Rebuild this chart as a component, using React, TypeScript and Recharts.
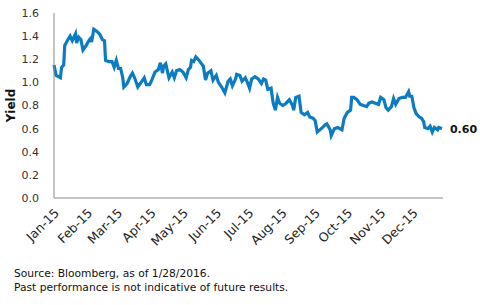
import React from "react";
import { LineChart, Line, XAxis, YAxis } from "recharts";

// days since Jan 1, 2015
const days = [
  0, 2, 6, 7, 9, 10, 13, 15, 17, 20, 21, 23, 25, 27, 30, 33, 34, 35, 37, 40,
  43, 45, 47, 48, 51, 54, 56, 58, 60, 62, 64, 65, 68, 71, 73, 75, 78, 81, 84, 86,
  89, 91, 94, 97, 99, 101, 102, 104, 107, 110, 112, 114, 117, 120, 123, 125, 127, 128, 130, 132,
  135, 139, 141, 143, 146, 148, 151, 153, 156, 159, 162, 164, 166, 169, 170, 173, 175, 178, 180, 182,
  184, 187, 190, 193, 195, 197, 199, 202, 204, 206, 208, 210, 213, 216, 219, 222, 223, 225, 228, 230,
  233, 236, 238, 241, 243, 245, 250, 252, 254, 257, 258, 261, 264, 268, 270, 273, 276, 277, 279, 282,
  285, 288, 291, 293, 296, 299, 302, 304, 307, 309, 311, 314, 316, 318, 321, 324, 327, 330, 331, 333,
  335, 337, 340, 342, 344, 345, 348, 350, 352, 354, 357, 358, 361,
];

const yields = [
  1.15, 1.06, 1.04, 1.13, 1.15, 1.32, 1.37, 1.4, 1.36, 1.42, 1.34, 1.39, 1.37, 1.28, 1.32, 1.37, 1.38, 1.35, 1.46, 1.44,
  1.41, 1.37, 1.36, 1.19, 1.18, 1.18, 1.13, 1.19, 1.12, 1.12, 1.04, 0.96, 0.99, 1.05, 1.08, 1.04, 0.96, 1.0, 1.04, 0.98,
  0.98, 1.02, 1.09, 1.11, 1.17, 1.08, 1.14, 1.16, 1.04, 1.09, 1.04, 1.1, 1.11, 1.09, 1.04, 1.11, 1.13, 1.19, 1.18, 1.22,
  1.19, 1.14, 1.02, 1.08, 1.1, 1.02, 1.06, 1.0, 0.96, 0.91, 1.01, 1.03, 0.97, 1.03, 1.07, 1.06, 1.01, 1.04, 1.0, 0.95,
  1.03, 1.05, 1.03, 0.99, 1.03, 1.02, 0.94, 0.95, 0.82, 0.76, 0.87, 0.82, 0.8, 0.82, 0.85, 0.8, 0.76, 0.87, 0.88, 0.74,
  0.72, 0.74, 0.7, 0.69, 0.67, 0.57, 0.61, 0.63, 0.64, 0.59, 0.54, 0.6, 0.61, 0.59, 0.69, 0.74, 0.76, 0.87, 0.87, 0.85,
  0.81, 0.8, 0.79, 0.82, 0.83, 0.82, 0.81, 0.87, 0.85, 0.78, 0.76, 0.79, 0.86, 0.81, 0.86, 0.87, 0.87, 0.92, 0.88, 0.88,
  0.78, 0.73, 0.7, 0.69, 0.66, 0.61, 0.6, 0.62, 0.57, 0.61, 0.59, 0.61, 0.6,
];

const monthTicks = [0, 31, 59, 90, 120, 151, 181, 212, 243, 273, 304, 334];
const monthLabels = ["Jan-15", "Feb-15", "Mar-15", "Apr-15", "May-15", "Jun-15", "Jul-15", "Aug-15", "Sep-15", "Oct-15", "Nov-15", "Dec-15"];
const yTicks = [0, 0.2, 0.4, 0.6, 0.8, 1.0, 1.2, 1.4, 1.6];

const data = days.map((d, i) => ({ day: d, value: yields[i] }));

const font = "'DejaVu Sans', sans-serif";

const MonthTick = (props: any) => {
  const { x, y, payload } = props;
  const idx = monthTicks.indexOf(payload.value);
  return (
    <g transform={`translate(${x + 3},${y + 5})`}>
      <text x={0} y={0} dy={4} textAnchor="end" transform="rotate(-45)" fontSize={12.5} fill="#222" fontFamily={font}>
        {monthLabels[idx]}
      </text>
    </g>
  );
};

const LastLabel = (props: any) => {
  const { x, y, index } = props;
  if (index !== data.length - 1) return null;
  return (
    <text x={x + 8} y={y} dy={4} fontSize={11} fontWeight="bold" fill="#111" fontFamily={font}>
      {yields[yields.length - 1].toFixed(2)}
    </text>
  );
};

export default function App() {
  return (
    <div style={{ position: "absolute", left: 0, top: 0, width: 480, height: 305, background: "#fff", fontFamily: font }}>
      <LineChart width={480} height={250} data={data} margin={{ top: 13, right: 37, left: 0, bottom: 0 }}>
        <XAxis
          dataKey="day"
          type="number"
          domain={[0, 362]}
          ticks={monthTicks}
          tick={<MonthTick />}
          tickLine={false}
          axisLine={{ stroke: "#888" }}
          height={52}
          interval={0}
        />
        <YAxis
          type="number"
          domain={[0, 1.6]}
          ticks={yTicks}
          tickFormatter={(v: number) => v.toFixed(1)}
          tick={{ fontSize: 11, fill: "#333", fontFamily: font }}
          tickLine={false}
          axisLine={{ stroke: "#888" }}
          width={54}
          tickMargin={9}
          label={{ value: "Yield", angle: -90, position: "insideLeft", offset: 11, style: { fontWeight: "bold", fontSize: 12, fill: "#111", textAnchor: "middle" } }}
        />
        <Line
          type="linear"
          dataKey="value"
          stroke="#0b7bc2"
          strokeWidth={3.2}
          dot={false}
          isAnimationActive={false}
          label={<LastLabel />}
        />
      </LineChart>
      <div style={{ position: "absolute", left: 14, top: 267, fontSize: 10.7, lineHeight: "14px", color: "#111" }}>
        <div>Source: Bloomberg, as of 1/28/2016.</div>
        <div>Past performance is not indicative of future results.</div>
      </div>
    </div>
  );
}
